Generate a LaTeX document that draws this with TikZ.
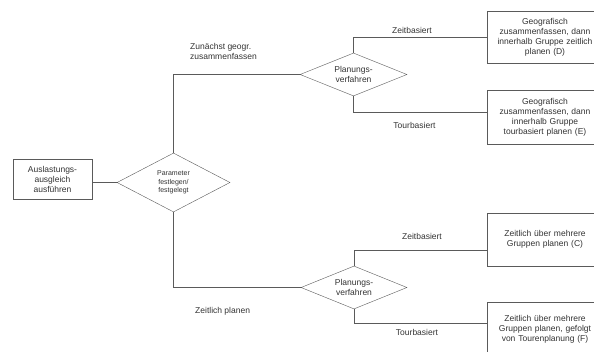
\documentclass[tikz,border=0pt]{standalone}
\usepackage{fontspec}
\setmainfont{Liberation Sans}
\usetikzlibrary{shapes.geometric}
\definecolor{linegray}{HTML}{5A5A5A}
\definecolor{textgray}{HTML}{333333}

\tikzset{
    box/.style={draw=linegray, fill=white, text=textgray, align=center,
        font=\fontsize{8.5}{10}\selectfont, inner sep=1pt},
    decision/.style={diamond, draw=linegray, fill=white, text=textgray,
        align=center, inner sep=0pt, shape aspect=2.5},
    lbl/.style={text=textgray, font=\fontsize{8.5}{10}\selectfont, inner sep=0pt},
    conn/.style={draw=linegray, line width=0.8pt}
}

\begin{document}
\begin{tikzpicture}[x=1pt, y=-1pt]
    \useasboundingbox (0,0) rectangle (594,352);

    % start and first decision
    \node[box, minimum width=79pt, minimum height=40pt] (start) at (52.5,179) {Auslastungs-\\ausgleich\\ausf\"uhren};
    \node[decision, minimum width=113pt, minimum height=59pt,
          font=\fontsize{7}{8.5}\selectfont] (d1) at (173.5,182.5) {Parameter\\festlegen/\\festgelegt};

    % second level decisions
    \node[decision, minimum width=107pt, minimum height=43pt,
          font=\fontsize{8.5}{10}\selectfont] (d2) at (353.5,74.5) {Planungs-\\verfahren};
    \node[decision, minimum width=106pt, minimum height=43pt,
          font=\fontsize{8.5}{10}\selectfont] (d3) at (354,287.5) {Planungs-\\verfahren};

    % results
    \node[box, minimum width=116pt, minimum height=52pt, text width=112pt] (bD) at (545,37)
        {Geografisch\\zusammenfassen, dann\\innerhalb Gruppe zeitlich\\planen (D)};
    \node[box, minimum width=116pt, minimum height=54pt, text width=112pt] (bE) at (545,117)
        {Geografisch\\zusammenfassen, dann\\innerhalb Gruppe\\tourbasiert planen (E)};
    \node[box, minimum width=116pt, minimum height=53pt, text width=112pt] (bC) at (545,239.5)
        {Zeitlich \"uber mehrere\\Gruppen planen (C)};
    \node[box, minimum width=116pt, minimum height=54pt, text width=112pt] (bF) at (545,329)
        {Zeitlich \"uber mehrere\\Gruppen planen, gefolgt\\von Tourenplanung (F)};

    % connectors
    \draw[conn] (d1.west -| start.east) -- (d1.west);
    \draw[conn] (d1.north) |- (d2.west);
    \draw[conn] (d1.south) |- (d3.west);
    \draw[conn] (d2.north) |- (bD.west);
    \draw[conn] (d2.south) |- ([yshift=5pt]bE.west);
    \draw[conn] (d3.north) |- ([yshift=-10.5pt]bC.west);
    \draw[conn] (d3.south) |- ([yshift=6pt]bF.west);

    % labels
    \node[lbl, anchor=west, align=left] (lGeo) at (190,51) {Zun\"achst geogr.\\zusammenfassen};
    \node[lbl, anchor=west] (lZeit) at (195,311) {Zeitlich planen};
    \node[lbl] (zb1) at (412,30) {Zeitbasiert};
    \node[lbl] (tb1) at (414.5,125) {Tourbasiert};
    \node[lbl] (zb2) at (422,236) {Zeitbasiert};
    \node[lbl] (tb2) at (417,332) {Tourbasiert};
\end{tikzpicture}
\end{document}
